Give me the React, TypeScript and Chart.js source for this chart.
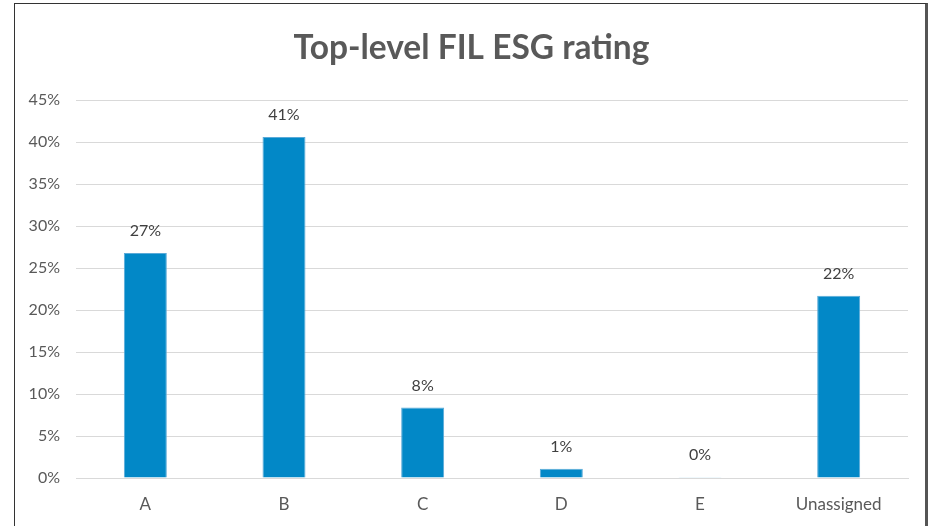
import React, { useEffect, useRef } from "react";
import { Chart, registerables } from "chart.js";

Chart.register(...registerables);

const categories = ["A", "B", "C", "D", "E", "Unassigned"];
const values = [26.8, 40.6, 8.4, 1.1, 0.1, 21.7];
const valueLabels = ["27%", "41%", "8%", "1%", "0%", "22%"];
const yTicks = [0, 5, 10, 15, 20, 25, 30, 35, 40, 45];
const titleText = "Top-level FIL ESG rating";

const FONT = "Lato, 'Open Sans', sans-serif";

const labelPlugin = {
  id: "valueLabels",
  afterDatasetsDraw(chart: any) {
    const ctx = chart.ctx;
    const meta = chart.getDatasetMeta(0);
    ctx.save();
    ctx.font = `16px ${FONT}`;
    ctx.fillStyle = "#404040";
    ctx.textAlign = "center";
    ctx.textBaseline = "middle";
    meta.data.forEach((bar: any, i: number) => {
      ctx.fillText(valueLabels[i], bar.x, bar.y - 22);
    });
    // title, centred on the frame
    ctx.font = `bold 33.5px ${FONT}`;
    ctx.fillStyle = "#595959";
    ctx.fillText(titleText, 471.5, 48);
    ctx.restore();
  },
};

export default function App() {
  const ref = useRef<HTMLCanvasElement>(null);
  useEffect(() => {
    document.body.style.margin = "0";
    const chart = new Chart(ref.current!, {
      type: "bar",
      data: {
        labels: categories,
        datasets: [
          {
            data: values,
            backgroundColor: "#0288C7",
            borderColor: "#5aaad8",
            borderWidth: 1,
            categoryPercentage: 1,
            barPercentage: 0.31,
          },
        ],
      },
      options: {
        animation: false,
        responsive: false,
        maintainAspectRatio: false,
        layout: { padding: { left: 0, right: 24, top: 100, bottom: 0 } },
        plugins: {
          legend: { display: false },
          tooltip: { enabled: false },
          title: { display: false },
        },
        scales: {
          x: {
            grid: { display: false, drawTicks: false },
            border: { display: true, color: "#d9d9d9" },
            afterFit: (axis: any) => {
              axis.height = 48;
            },
            ticks: {
              color: "#595959",
              font: { family: FONT, size: 17 },
              padding: 16,
              maxRotation: 0,
            },
          },
          y: {
            min: 0,
            max: 45,
            afterBuildTicks: (axis: any) => {
              axis.ticks = yTicks.map((v) => ({ value: v }));
            },
            afterFit: (axis: any) => {
              axis.width = 76;
            },
            grid: { color: "#d9d9d9", drawTicks: false },
            border: { display: false },
            ticks: {
              color: "#595959",
              font: { family: FONT, size: 16 },
              padding: 16,
              callback: (v: any) => `${v}%`,
            },
          },
        },
      },
      plugins: [labelPlugin],
    });
    return () => chart.destroy();
  }, []);
  return (
    <div style={{ position: "relative", width: 932, height: 526, background: "#fff", overflow: "hidden" }}>
      <canvas ref={ref} width={932} height={526} style={{ position: "absolute", left: 0, top: 0 }} />
      <div
        style={{
          position: "absolute",
          left: 14,
          top: 3,
          width: 914,
          height: 560,
          border: "1.5px solid #333",
          borderRight: "3px solid #555",
          boxSizing: "border-box",
          pointerEvents: "none",
        }}
      />
    </div>
  );
}
